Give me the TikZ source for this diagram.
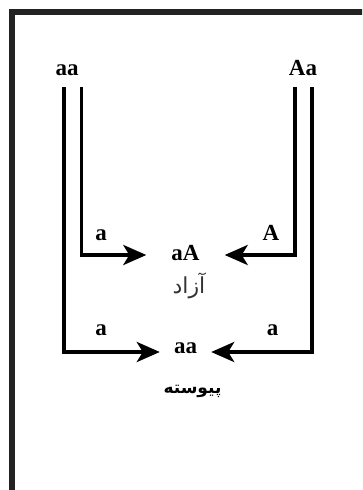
\documentclass[tikz,border=0pt]{standalone}
\usepackage{fontspec}
\setmainfont{Liberation Serif}
\newfontfamily\arabicfont[Script=Arabic]{DejaVu Sans}
\TeXXeTstate=1
\usetikzlibrary{arrows.meta}
\definecolor{framegray}{HTML}{222222}
\definecolor{labelgray}{HTML}{333333}
\tikzset{
  lbl/.style={font=\fontsize{23}{26}\selectfont\bfseries, inner sep=0pt},
  fa/.style={font=\fontsize{22}{26}\selectfont\arabicfont, inner sep=0pt},
  wire/.style={line width=3.8pt, line join=miter},
  arr/.style={wire, -{Stealth[length=23pt, width=20pt, inset=6pt]}},
}
\begin{document}
\begin{tikzpicture}[x=1pt, y=-1pt]
\useasboundingbox (0,0) rectangle (362,490);
\clip (0,0) rectangle (362,490);

% outer frame, open at right and bottom
\draw[line width=5.6pt, framegray] (12,520) -- (12,12) -- (400,12);

% parent genotypes
\node[lbl, anchor=base] (pa) at (67,75) {aa};
\node[lbl, anchor=base] (pb) at (303,75) {Aa};

% tops of the four gamete lines
\coordinate (l1) at (63.6,87);
\coordinate (l2) at (81.4,87);
\coordinate (r2) at (294.6,87);
\coordinate (r1) at (311.6,87);

% offspring
\node[lbl, minimum width=78pt, text height=14pt, text depth=4pt] (free) at (185.5,255) {aA};
\node[lbl, minimum width=51pt, text height=9pt, text depth=6.4pt] (bound) at (185.5,352) {aa};

% gamete lines and arrows
\draw[arr] (l2) |- (free.west);
\draw[arr] (r2) |- (free.east);
\draw[arr] (l1) |- (bound.west);
\draw[arr] (r1) |- (bound.east);

% gamete letters
\node[lbl, anchor=base] (ga1) at (101,240.7) {a};
\node[lbl, anchor=base] (ga2) at (271,240.7) {A};
\node[lbl, anchor=base] (gb1) at (101,335.7) {a};
\node[lbl, anchor=base] (gb2) at (272.7,335.7) {a};

% Persian captions
\node[fa, text=labelgray] (cfree) at (189,286) {\beginR آزاد\endR};
\node[fa, font=\fontsize{17}{20}\selectfont\arabicfont\bfseries] (cbound) at (192.5,391) {\beginR پیوسته\endR};
\end{tikzpicture}
\end{document}
